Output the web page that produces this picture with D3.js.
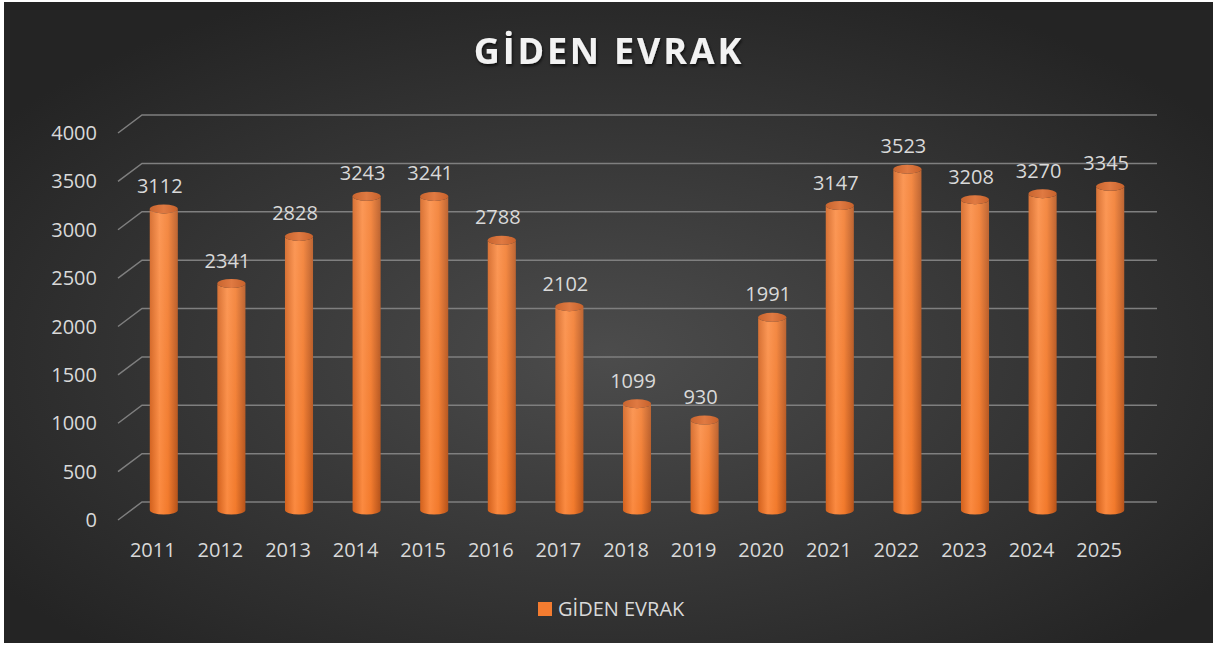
<!DOCTYPE html>
<html lang="tr">

<head>
    <meta charset="UTF-8">
    <title>Giden Evrak</title>
    <script src='https://d3js.org/d3.v7.min.js'></script>
    <style>
        body { margin: 0; background: #fff; }
    </style>
</head>

<body>
    <script>
        // data
        const years = ['2011', '2012', '2013', '2014', '2015', '2016', '2017', '2018', '2019', '2020', '2021', '2022', '2023', '2024', '2025'];
        const values = [3112, 2341, 2828, 3243, 3241, 2788, 2102, 1099, 930, 1991, 3147, 3523, 3208, 3270, 3345];
        const yTicks = [0, 500, 1000, 1500, 2000, 2500, 3000, 3500, 4000];
        const seriesName = 'GİDEN EVRAK';

        const W = 1215, H = 646;
        const font = "'Open Sans', 'Noto Sans', sans-serif";

        const svg = d3.select('body').append('svg')
            .attr('width', W).attr('height', H);

        const defs = svg.append('defs');

        // background gradient
        const bg = defs.append('radialGradient').attr('id', 'bg')
            .attr('cx', '50%').attr('cy', '55%').attr('r', '62%');
        bg.append('stop').attr('offset', '0%').attr('stop-color', '#4c4c4c');
        bg.append('stop').attr('offset', '100%').attr('stop-color', '#242424');

        // cylinder side
        const side = defs.append('linearGradient').attr('id', 'side')
            .attr('x1', '0%').attr('x2', '100%').attr('y1', '0%').attr('y2', '0%');
        side.append('stop').attr('offset', '0%').attr('stop-color', '#d2601c');
        side.append('stop').attr('offset', '35%').attr('stop-color', '#fb8a40');
        side.append('stop').attr('offset', '65%').attr('stop-color', '#f27a2c');
        side.append('stop').attr('offset', '100%').attr('stop-color', '#b4521a');

        const shine = defs.append('linearGradient').attr('id', 'shine')
            .attr('x1', '0%').attr('x2', '0%').attr('y1', '0%').attr('y2', '100%');
        shine.append('stop').attr('offset', '0%').attr('stop-color', '#fff').attr('stop-opacity', 0.12);
        shine.append('stop').attr('offset', '100%').attr('stop-color', '#fff').attr('stop-opacity', 0);

        const topGrad = defs.append('linearGradient').attr('id', 'topg')
            .attr('x1', '0%').attr('x2', '100%').attr('y1', '0%').attr('y2', '0%');
        topGrad.append('stop').attr('offset', '0%').attr('stop-color', '#c9652f');
        topGrad.append('stop').attr('offset', '50%').attr('stop-color', '#e07a42');
        topGrad.append('stop').attr('offset', '100%').attr('stop-color', '#c7622c');

        const shadow = defs.append('filter').attr('id', 'shadow')
            .attr('x', '-10%').attr('y', '-30%').attr('width', '120%').attr('height', '160%');
        shadow.append('feDropShadow').attr('dx', 1).attr('dy', 2).attr('stdDeviation', 1.8)
            .attr('flood-color', '#000').attr('flood-opacity', 0.7);

        svg.append('rect')
            .attr('x', 4).attr('y', 2).attr('width', 1209).attr('height', 641)
            .attr('fill', 'url(#bg)');

        // scales
        const x = d3.scaleBand().domain(years).range([130, 1144])
            .paddingInner(0.585).paddingOuter(0.2925);
        const yWall = d3.scaleLinear().domain([0, 4000]).range([502, 115]);
        const yBar = d3.scaleLinear().domain([0, 4000]).range([510, 123]);
        const depthX = 24, depthY = 18;

        // gridlines on the back wall + floor diagonal
        const grid = svg.append('g');
        yTicks.forEach(t => {
            const yy = yWall(t);
            grid.append('path')
                .attr('d', `M${142 - depthX},${yy + depthY}L142,${yy}L1157,${yy}`)
                .attr('fill', 'none')
                .attr('stroke', '#7f7f7f')
                .attr('stroke-width', 1.5);
        });

        // y axis labels
        svg.append('g').selectAll('text')
            .data(yTicks).enter().append('text')
            .attr('x', 97)
            .attr('y', d => yWall(d) + depthY + 7)
            .attr('text-anchor', 'end')
            .attr('font-family', font).attr('font-size', 20)
            .attr('fill', '#d9d9d9')
            .text(d => d);

        // x axis labels
        svg.append('g').selectAll('text')
            .data(years).enter().append('text')
            .attr('x', d => x(d) + x.bandwidth() / 2 - 11)
            .attr('y', 557)
            .attr('text-anchor', 'middle')
            .attr('font-family', font).attr('font-size', 20)
            .attr('fill', '#d9d9d9')
            .text(d => d);

        // cylinders
        const rx = x.bandwidth() / 2, ry = 4.5;
        const bars = svg.append('g').selectAll('g')
            .data(years.map((yr, i) => ({ yr, v: values[i] })))
            .enter().append('g');

        function bodyPath(d) {
            const cx = x(d.yr) + rx;
            const top = yBar(d.v), base = yBar(0);
            return `M${cx - rx},${top}L${cx - rx},${base}` +
                `A${rx},${ry} 0 0 0 ${cx + rx},${base}L${cx + rx},${top}` +
                `A${rx},${ry} 0 0 1 ${cx - rx},${top}Z`;
        }

        bars.append('path').attr('d', bodyPath).attr('fill', 'url(#side)');
        bars.append('path').attr('d', bodyPath).attr('fill', 'url(#shine)');
        bars.append('ellipse')
            .attr('cx', d => x(d.yr) + rx)
            .attr('cy', d => yBar(d.v))
            .attr('rx', rx).attr('ry', ry)
            .attr('fill', 'url(#topg)');

        // value labels
        svg.append('g').selectAll('text')
            .data(years.map((yr, i) => ({ yr, v: values[i] })))
            .enter().append('text')
            .attr('x', d => x(d.yr) + rx - 4)
            .attr('y', d => yBar(d.v) - 16)
            .attr('text-anchor', 'middle')
            .attr('font-family', font).attr('font-size', 20)
            .attr('fill', '#d9d9d9')
            .text(d => d.v);

        // title
        svg.append('text')
            .attr('x', 609).attr('y', 64)
            .attr('text-anchor', 'middle')
            .attr('font-family', font).attr('font-size', 36).attr('font-weight', 700)
            .attr('letter-spacing', 2.8)
            .attr('fill', '#f2f2f2')
            .attr('filter', 'url(#shadow)')
            .text(seriesName);

        // legend
        const legend = svg.append('g');
        legend.append('rect')
            .attr('x', 538).attr('y', 602).attr('width', 14).attr('height', 14)
            .attr('fill', '#f47c30');
        legend.append('text')
            .attr('x', 558).attr('y', 616)
            .attr('font-family', font).attr('font-size', 20)
            .attr('fill', '#d9d9d9')
            .text(seriesName);
    </script>
</body>

</html>
